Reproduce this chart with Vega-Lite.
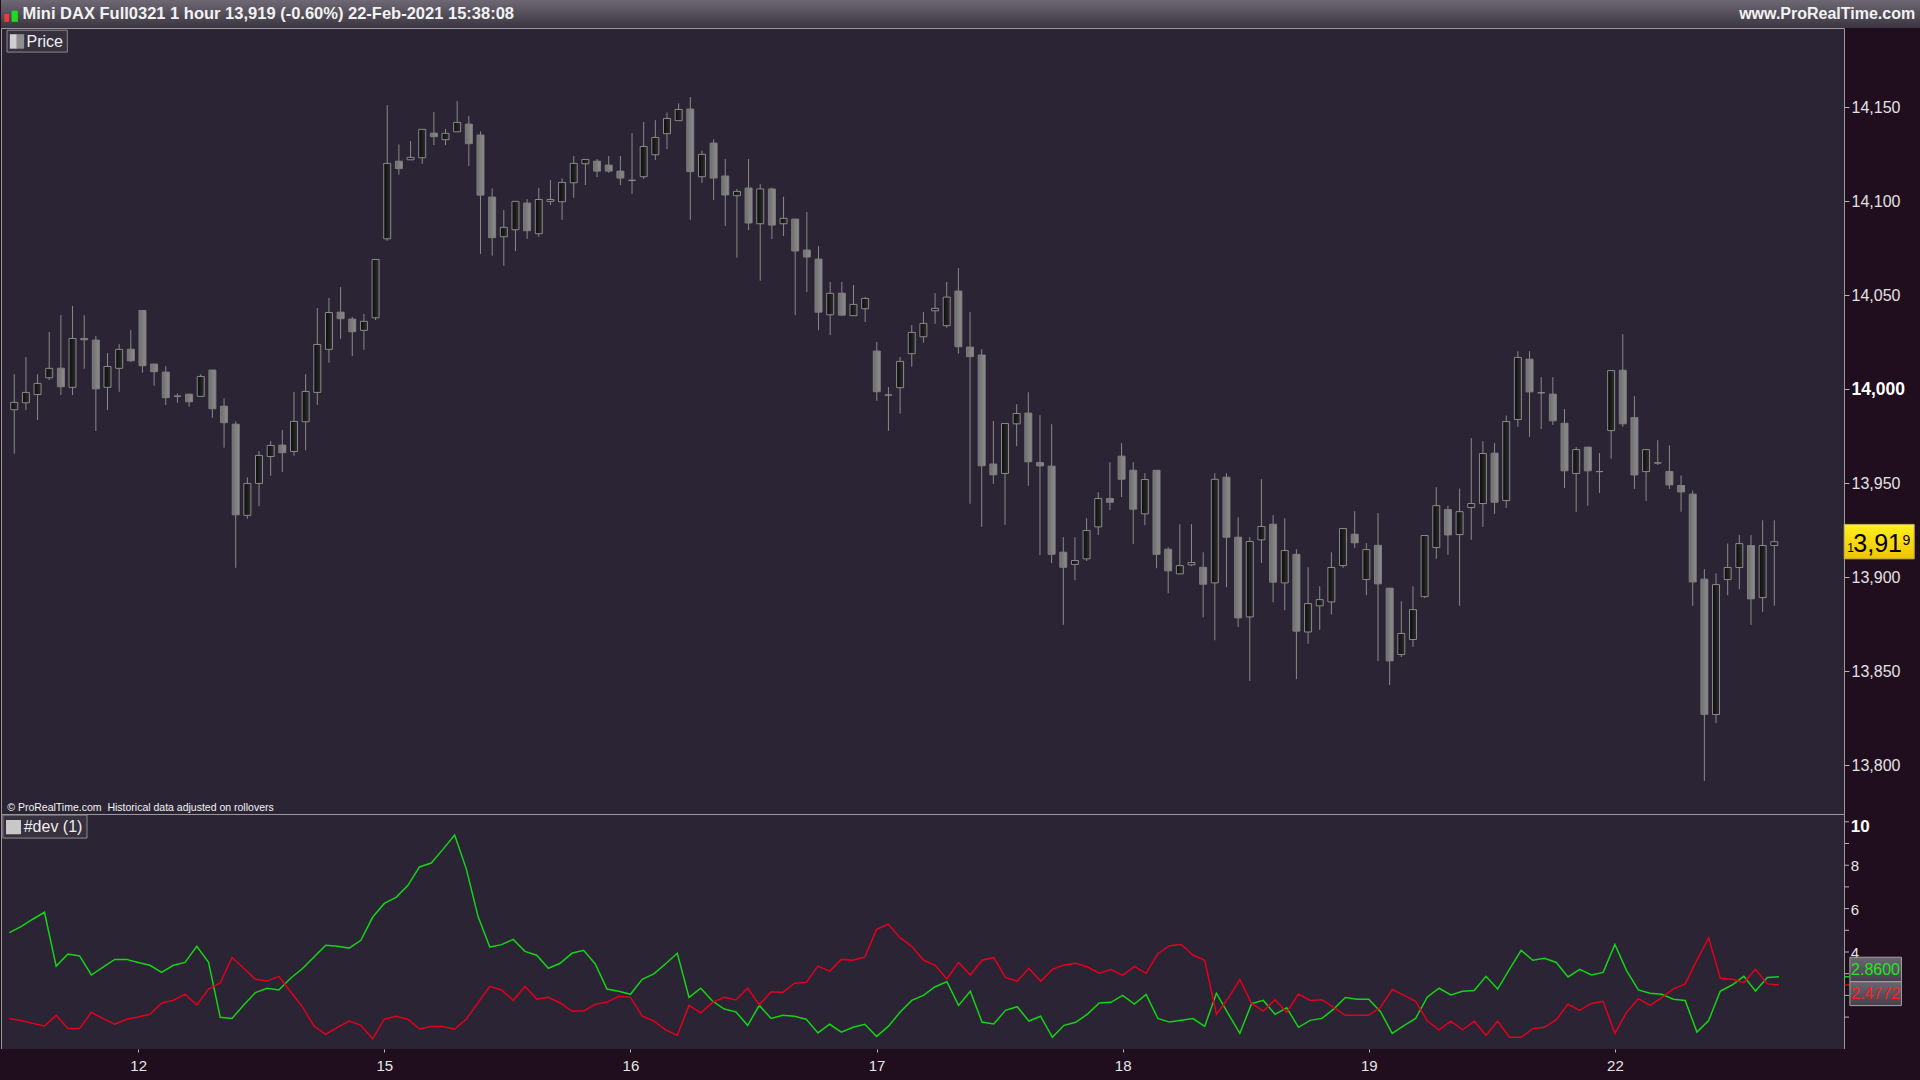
{
  "$schema": "https://vega.github.io/schema/vega-lite/v6.json",
  "background": "#200e1e",
  "padding": 0,
  "spacing": 0,
  "bounds": "flush",
  "config": {
    "font": "Liberation Sans",
    "view": {"stroke": null},
    "axis": {"domain": false, "grid": false, "labelFont": "Liberation Sans", "labelColor": "#e6e6e6", "tickColor": "#b4b4b4", "labelOverlap": false}
  },
  "resolve": {"scale": {"x": "independent", "y": "independent"}},
  "datasets": {
    "bars": [
      {"bar":0,"open":13989.2,"high":14008.1,"low":13965.8,"close":13993.1,"up":4.89,"dn":0.94},
      {"bar":1,"open":13992.9,"high":14017.2,"low":13989.0,"close":13998.4,"up":5.17,"dn":0.84},
      {"bar":2,"open":13997.3,"high":14008.1,"low":13983.7,"close":14003.2,"up":5.51,"dn":0.71},
      {"bar":3,"open":14006.2,"high":14030.5,"low":14005.0,"close":14011.2,"up":5.83,"dn":0.59},
      {"bar":4,"open":14011.3,"high":14039.5,"low":13997.0,"close":14001.4,"up":3.35,"dn":1.08},
      {"bar":5,"open":14001.1,"high":14044.3,"low":13997.0,"close":14027.1,"up":3.91,"dn":0.48},
      {"bar":6,"open":14027.1,"high":14039.5,"low":14011.0,"close":14026.4,"up":3.82,"dn":0.48},
      {"bar":7,"open":14026.2,"high":14028.4,"low":13977.8,"close":14000.3,"up":2.94,"dn":1.22},
      {"bar":8,"open":14001.1,"high":14019.3,"low":13989.0,"close":14012.2,"up":3.30,"dn":0.93},
      {"bar":9,"open":14011.2,"high":14024.1,"low":13998.7,"close":14021.3,"up":3.66,"dn":0.67},
      {"bar":10,"open":14021.4,"high":14031.5,"low":14014.5,"close":14015.2,"up":3.66,"dn":0.90},
      {"bar":11,"open":14042.0,"high":14042.0,"low":14008.9,"close":14012.6,"up":3.52,"dn":1.00},
      {"bar":12,"open":14013.5,"high":14013.5,"low":14001.9,"close":14009.4,"up":3.39,"dn":1.13},
      {"bar":13,"open":14009.2,"high":14012.4,"low":13991.7,"close":13995.6,"up":3.06,"dn":1.65},
      {"bar":14,"open":13996.4,"high":13997.9,"low":13992.9,"close":13996.4,"up":3.39,"dn":1.77},
      {"bar":15,"open":13997.5,"high":13997.5,"low":13990.8,"close":13993.4,"up":3.52,"dn":2.06},
      {"bar":16,"open":13996.3,"high":14008.1,"low":13996.1,"close":14006.9,"up":4.26,"dn":1.56},
      {"bar":17,"open":14010.3,"high":14010.3,"low":13984.9,"close":13989.7,"up":3.52,"dn":2.29},
      {"bar":18,"open":13991.1,"high":13995.2,"low":13969.0,"close":13982.3,"up":0.99,"dn":2.57},
      {"bar":19,"open":13981.5,"high":13983.0,"low":13905.1,"close":13933.3,"up":0.94,"dn":3.75},
      {"bar":20,"open":13933.0,"high":13953.2,"low":13931.2,"close":13950.0,"up":1.56,"dn":3.25},
      {"bar":21,"open":13950.0,"high":13967.2,"low":13937.9,"close":13964.9,"up":2.13,"dn":2.74},
      {"bar":22,"open":13964.3,"high":13972.5,"low":13954.1,"close":13970.2,"up":2.33,"dn":2.66},
      {"bar":23,"open":13970.4,"high":13978.4,"low":13956.0,"close":13966.3,"up":2.25,"dn":2.88},
      {"bar":24,"open":13967.0,"high":13998.6,"low":13964.7,"close":13983.0,"up":2.79,"dn":2.17},
      {"bar":25,"open":13982.8,"high":14008.1,"low":13967.7,"close":13998.9,"up":3.23,"dn":1.48},
      {"bar":26,"open":13998.4,"high":14043.3,"low":13991.8,"close":14023.9,"up":3.77,"dn":0.59},
      {"bar":27,"open":14021.3,"high":14048.6,"low":14014.2,"close":14040.9,"up":4.31,"dn":0.21},
      {"bar":28,"open":14041.1,"high":14054.4,"low":14026.9,"close":14037.6,"up":4.26,"dn":0.53},
      {"bar":29,"open":14037.4,"high":14038.5,"low":14017.7,"close":14030.7,"up":4.18,"dn":0.82},
      {"bar":30,"open":14031.4,"high":14040.1,"low":14021.1,"close":14036.2,"up":4.54,"dn":0.62},
      {"bar":31,"open":14038.1,"high":14069.1,"low":14036.9,"close":14069.1,"up":5.60,"dn":0.00},
      {"bar":32,"open":14080.1,"high":14151.2,"low":14079.1,"close":14120.2,"up":6.24,"dn":0.91},
      {"bar":33,"open":14121.4,"high":14130.3,"low":14114.2,"close":14117.4,"up":6.52,"dn":1.04},
      {"bar":34,"open":14122.1,"high":14132.1,"low":14122.1,"close":14123.4,"up":7.06,"dn":0.90},
      {"bar":35,"open":14123.2,"high":14138.3,"low":14120.0,"close":14138.3,"up":7.92,"dn":0.45},
      {"bar":36,"open":14136.3,"high":14147.5,"low":14129.9,"close":14134.4,"up":8.10,"dn":0.57},
      {"bar":37,"open":14132.8,"high":14138.5,"low":14129.9,"close":14136.2,"up":8.73,"dn":0.57},
      {"bar":38,"open":14137.0,"high":14153.3,"low":14137.0,"close":14142.0,"up":9.39,"dn":0.44},
      {"bar":39,"open":14141.1,"high":14145.4,"low":14118.8,"close":14130.7,"up":7.82,"dn":0.91},
      {"bar":40,"open":14135.3,"high":14137.2,"low":14072.1,"close":14103.3,"up":5.63,"dn":1.67},
      {"bar":41,"open":14102.3,"high":14106.9,"low":14071.1,"close":14080.7,"up":4.23,"dn":2.42},
      {"bar":42,"open":14081.2,"high":14095.4,"low":14065.8,"close":14086.2,"up":4.34,"dn":2.25},
      {"bar":43,"open":14084.9,"high":14100.0,"low":14073.6,"close":14100.0,"up":4.58,"dn":1.77},
      {"bar":44,"open":14099.1,"high":14101.2,"low":14080.1,"close":14084.4,"up":4.03,"dn":2.42},
      {"bar":45,"open":14082.8,"high":14107.1,"low":14081.2,"close":14101.0,"up":3.85,"dn":1.83},
      {"bar":46,"open":14100.0,"high":14111.3,"low":14098.0,"close":14101.0,"up":3.25,"dn":1.91},
      {"bar":47,"open":14099.8,"high":14112.2,"low":14090.2,"close":14110.1,"up":3.48,"dn":1.65},
      {"bar":48,"open":14109.9,"high":14124.1,"low":14101.9,"close":14120.2,"up":3.94,"dn":1.28},
      {"bar":49,"open":14120.0,"high":14122.3,"low":14108.7,"close":14122.3,"up":4.08,"dn":1.28},
      {"bar":50,"open":14121.4,"high":14122.5,"low":14112.9,"close":14116.1,"up":3.45,"dn":1.59},
      {"bar":51,"open":14119.3,"high":14124.1,"low":14115.2,"close":14116.1,"up":2.29,"dn":1.69},
      {"bar":52,"open":14116.1,"high":14124.1,"low":14108.7,"close":14112.4,"up":2.19,"dn":1.96},
      {"bar":53,"open":14111.2,"high":14136.3,"low":14103.9,"close":14111.2,"up":2.05,"dn":1.91},
      {"bar":54,"open":14113.1,"high":14142.2,"low":14111.9,"close":14129.2,"up":2.74,"dn":1.05},
      {"bar":55,"open":14124.8,"high":14143.2,"low":14122.0,"close":14134.0,"up":2.99,"dn":0.82},
      {"bar":56,"open":14136.0,"high":14147.3,"low":14127.8,"close":14144.1,"up":3.46,"dn":0.41},
      {"bar":57,"open":14142.9,"high":14152.1,"low":14142.9,"close":14148.9,"up":3.94,"dn":0.16},
      {"bar":58,"open":14149.1,"high":14155.5,"low":14090.2,"close":14115.8,"up":1.91,"dn":1.54},
      {"bar":59,"open":14113.1,"high":14127.0,"low":14109.9,"close":14125.0,"up":2.33,"dn":1.19},
      {"bar":60,"open":14131.0,"high":14133.0,"low":14100.7,"close":14112.4,"up":1.74,"dn":1.68},
      {"bar":61,"open":14113.5,"high":14122.5,"low":14086.9,"close":14103.4,"up":1.37,"dn":1.91},
      {"bar":62,"open":14103.0,"high":14106.6,"low":14070.0,"close":14105.3,"up":1.24,"dn":1.79},
      {"bar":63,"open":14107.1,"high":14122.5,"low":14084.7,"close":14088.5,"up":0.62,"dn":2.33},
      {"bar":64,"open":14088.1,"high":14109.2,"low":14057.8,"close":14106.6,"up":1.54,"dn":1.57},
      {"bar":65,"open":14106.6,"high":14107.3,"low":14080.0,"close":14087.4,"up":0.94,"dn":2.17},
      {"bar":66,"open":14088.1,"high":14102.5,"low":14081.6,"close":14091.0,"up":1.08,"dn":2.14},
      {"bar":67,"open":14090.6,"high":14090.6,"low":14039.5,"close":14073.6,"up":1.04,"dn":2.56},
      {"bar":68,"open":14074.1,"high":14094.3,"low":14051.8,"close":14070.4,"up":0.90,"dn":2.60},
      {"bar":69,"open":14069.3,"high":14076.2,"low":14031.5,"close":14041.1,"up":0.27,"dn":3.35},
      {"bar":70,"open":14039.7,"high":14057.1,"low":14028.9,"close":14051.1,"up":0.67,"dn":3.12},
      {"bar":71,"open":14051.2,"high":14057.1,"low":14039.2,"close":14039.5,"up":0.31,"dn":3.66},
      {"bar":72,"open":14039.2,"high":14055.5,"low":14039.2,"close":14045.2,"up":0.53,"dn":3.62},
      {"bar":73,"open":14042.9,"high":14049.1,"low":14035.8,"close":14048.4,"up":0.67,"dn":3.77},
      {"bar":74,"open":14020.4,"high":14025.2,"low":13994.0,"close":13998.8,"up":0.11,"dn":5.04},
      {"bar":75,"open":13997.0,"high":14001.2,"low":13978.0,"close":13997.0,"up":0.57,"dn":5.28},
      {"bar":76,"open":14000.9,"high":14017.2,"low":13987.1,"close":14014.9,"up":1.22,"dn":4.66},
      {"bar":77,"open":14019.0,"high":14034.2,"low":14012.1,"close":14030.3,"up":1.77,"dn":4.26},
      {"bar":78,"open":14028.0,"high":14041.1,"low":14024.8,"close":14035.1,"up":2.00,"dn":3.63},
      {"bar":79,"open":14041.8,"high":14051.2,"low":14034.9,"close":14043.1,"up":2.40,"dn":3.39},
      {"bar":80,"open":14033.9,"high":14057.1,"low":14032.8,"close":14049.1,"up":2.63,"dn":2.76},
      {"bar":81,"open":14052.3,"high":14064.5,"low":14019.0,"close":14022.7,"up":1.54,"dn":3.52},
      {"bar":82,"open":14022.5,"high":14041.1,"low":13939.2,"close":14017.4,"up":2.19,"dn":2.94},
      {"bar":83,"open":14018.3,"high":14021.4,"low":13926.9,"close":13959.4,"up":0.77,"dn":3.62},
      {"bar":84,"open":13960.3,"high":13983.2,"low":13949.8,"close":13954.6,"up":0.68,"dn":3.75},
      {"bar":85,"open":13955.3,"high":13981.9,"low":13928.0,"close":13981.9,"up":1.31,"dn":2.83},
      {"bar":86,"open":13981.7,"high":13992.1,"low":13969.8,"close":13987.2,"up":1.48,"dn":2.65},
      {"bar":87,"open":13987.4,"high":13998.5,"low":13948.7,"close":13961.5,"up":0.82,"dn":3.25},
      {"bar":88,"open":13961.1,"high":13986.3,"low":13911.8,"close":13959.3,"up":1.04,"dn":2.65},
      {"bar":89,"open":13959.2,"high":13981.5,"low":13907.7,"close":13912.3,"up":0.07,"dn":3.20},
      {"bar":90,"open":13913.4,"high":13921.4,"low":13874.8,"close":13905.4,"up":0.62,"dn":3.40},
      {"bar":91,"open":13906.9,"high":13921.4,"low":13898.5,"close":13909.0,"up":0.76,"dn":3.48},
      {"bar":92,"open":13909.9,"high":13931.5,"low":13908.8,"close":13925.0,"up":1.14,"dn":3.31},
      {"bar":93,"open":13926.9,"high":13945.3,"low":13922.5,"close":13942.0,"up":1.65,"dn":3.02},
      {"bar":94,"open":13942.0,"high":13961.3,"low":13935.8,"close":13940.0,"up":1.68,"dn":3.19},
      {"bar":95,"open":13964.5,"high":13971.4,"low":13942.7,"close":13952.2,"up":2.00,"dn":2.92},
      {"bar":96,"open":13957.0,"high":13961.3,"low":13917.7,"close":13936.3,"up":1.60,"dn":3.34},
      {"bar":97,"open":13933.8,"high":13955.4,"low":13927.8,"close":13952.1,"up":2.05,"dn":3.02},
      {"bar":98,"open":13957.0,"high":13957.0,"low":13904.9,"close":13912.3,"up":0.94,"dn":3.92},
      {"bar":99,"open":13915.0,"high":13916.1,"low":13891.6,"close":13903.5,"up":0.77,"dn":4.29},
      {"bar":100,"open":13901.9,"high":13928.3,"low":13901.9,"close":13906.3,"up":0.85,"dn":4.35},
      {"bar":101,"open":13906.7,"high":13928.3,"low":13906.0,"close":13907.9,"up":0.93,"dn":3.86},
      {"bar":102,"open":13905.4,"high":13913.4,"low":13878.8,"close":13896.4,"up":0.57,"dn":3.62},
      {"bar":103,"open":13897.1,"high":13955.4,"low":13866.6,"close":13952.2,"up":2.10,"dn":1.13},
      {"bar":104,"open":13953.3,"high":13955.4,"low":13894.8,"close":13921.4,"up":1.16,"dn":1.86},
      {"bar":105,"open":13921.4,"high":13932.0,"low":13873.7,"close":13878.5,"up":0.25,"dn":2.73},
      {"bar":106,"open":13879.0,"high":13921.4,"low":13845.0,"close":13919.1,"up":1.62,"dn":1.63},
      {"bar":107,"open":13920.0,"high":13952.2,"low":13907.7,"close":13927.1,"up":1.77,"dn":1.28},
      {"bar":108,"open":13928.3,"high":13933.1,"low":13886.8,"close":13897.5,"up":1.13,"dn":1.80},
      {"bar":109,"open":13897.1,"high":13931.5,"low":13882.6,"close":13914.3,"up":1.43,"dn":1.22},
      {"bar":110,"open":13912.3,"high":13915.0,"low":13845.9,"close":13871.4,"up":0.53,"dn":2.06},
      {"bar":111,"open":13871.0,"high":13905.4,"low":13864.7,"close":13886.1,"up":0.85,"dn":1.77},
      {"bar":112,"open":13884.9,"high":13895.3,"low":13872.1,"close":13888.2,"up":0.94,"dn":1.80},
      {"bar":113,"open":13887.0,"high":13913.4,"low":13880.3,"close":13905.3,"up":1.37,"dn":1.45},
      {"bar":114,"open":13906.3,"high":13926.0,"low":13905.1,"close":13926.0,"up":1.90,"dn":1.08},
      {"bar":115,"open":13923.0,"high":13935.2,"low":13915.7,"close":13918.4,"up":1.82,"dn":1.08},
      {"bar":116,"open":13898.9,"high":13918.2,"low":13890.5,"close":13914.8,"up":1.82,"dn":1.08},
      {"bar":117,"open":13917.1,"high":13934.2,"low":13855.6,"close":13896.6,"up":1.25,"dn":1.45},
      {"bar":118,"open":13894.3,"high":13894.3,"low":13842.8,"close":13855.6,"up":0.25,"dn":2.27},
      {"bar":119,"open":13859.0,"high":13887.3,"low":13857.7,"close":13870.2,"up":0.61,"dn":2.00},
      {"bar":120,"open":13867.0,"high":13895.3,"low":13863.1,"close":13882.9,"up":0.94,"dn":1.73},
      {"bar":121,"open":13889.8,"high":13922.3,"low":13889.1,"close":13922.3,"up":1.93,"dn":0.82},
      {"bar":122,"open":13915.9,"high":13948.0,"low":13909.9,"close":13938.2,"up":2.33,"dn":0.41},
      {"bar":123,"open":13936.1,"high":13938.2,"low":13912.0,"close":13922.6,"up":2.02,"dn":0.81},
      {"bar":124,"open":13922.8,"high":13947.3,"low":13884.9,"close":13935.0,"up":2.19,"dn":0.41},
      {"bar":125,"open":13937.2,"high":13974.1,"low":13920.0,"close":13939.3,"up":2.23,"dn":0.81},
      {"bar":126,"open":13939.3,"high":13972.5,"low":13926.9,"close":13965.9,"up":2.88,"dn":0.16},
      {"bar":127,"open":13966.1,"high":13971.4,"low":13933.8,"close":13940.0,"up":2.29,"dn":0.81},
      {"bar":128,"open":13940.9,"high":13986.1,"low":13937.0,"close":13982.9,"up":3.20,"dn":0.07},
      {"bar":129,"open":13984.0,"high":14020.3,"low":13980.1,"close":14017.0,"up":4.08,"dn":0.07},
      {"bar":130,"open":14016.1,"high":14020.3,"low":13974.8,"close":13998.7,"up":3.62,"dn":0.47},
      {"bar":131,"open":13998.2,"high":14006.5,"low":13979.0,"close":13998.2,"up":3.71,"dn":0.53},
      {"bar":132,"open":13997.5,"high":14006.5,"low":13981.1,"close":13983.3,"up":3.52,"dn":0.88},
      {"bar":133,"open":13982.0,"high":13989.5,"low":13947.6,"close":13956.7,"up":2.85,"dn":1.59},
      {"bar":134,"open":13955.3,"high":13969.3,"low":13934.9,"close":13968.0,"up":3.20,"dn":1.31},
      {"bar":135,"open":13969.3,"high":13969.3,"low":13938.1,"close":13956.7,"up":2.94,"dn":1.63},
      {"bar":136,"open":13956.3,"high":13966.1,"low":13945.0,"close":13956.3,"up":3.06,"dn":1.73},
      {"bar":137,"open":13978.1,"high":14010.0,"low":13963.1,"close":14010.0,"up":4.35,"dn":0.25},
      {"bar":138,"open":14010.2,"high":14029.4,"low":13980.1,"close":13981.7,"up":3.14,"dn":1.22},
      {"bar":139,"open":13985.0,"high":13996.4,"low":13947.1,"close":13954.5,"up":2.25,"dn":1.85},
      {"bar":140,"open":13956.3,"high":13968.0,"low":13940.7,"close":13968.0,"up":2.10,"dn":1.54},
      {"bar":141,"open":13960.9,"high":13973.0,"low":13959.9,"close":13960.9,"up":2.05,"dn":1.90},
      {"bar":142,"open":13956.3,"high":13970.2,"low":13947.1,"close":13949.2,"up":1.82,"dn":2.30},
      {"bar":143,"open":13948.9,"high":13954.2,"low":13934.9,"close":13945.5,"up":1.77,"dn":2.53},
      {"bar":144,"open":13944.3,"high":13946.2,"low":13884.9,"close":13897.6,"up":0.31,"dn":3.63},
      {"bar":145,"open":13899.1,"high":13904.4,"low":13791.8,"close":13827.2,"up":0.84,"dn":4.65},
      {"bar":146,"open":13827.1,"high":13902.1,"low":13822.6,"close":13896.2,"up":2.20,"dn":2.79},
      {"bar":147,"open":13898.9,"high":13918.0,"low":13890.5,"close":13905.3,"up":2.48,"dn":2.74},
      {"bar":148,"open":13905.3,"high":13922.5,"low":13893.7,"close":13918.0,"up":2.88,"dn":2.59},
      {"bar":149,"open":13917.0,"high":13922.5,"low":13874.8,"close":13888.6,"up":2.20,"dn":3.20},
      {"bar":150,"open":13889.3,"high":13930.4,"low":13881.7,"close":13917.0,"up":2.83,"dn":2.53},
      {"bar":151,"open":13917.0,"high":13930.4,"low":13884.9,"close":13919.0,"up":2.86,"dn":2.48}
    ],
    "devscale": [
      {"v": 1, "lab": ""}, {"v": 2, "lab": ""}, {"v": 3, "lab": ""}, {"v": 4, "lab": "4"}, {"v": 5, "lab": ""},
      {"v": 6, "lab": "6"}, {"v": 7, "lab": ""}, {"v": 8, "lab": "8"}, {"v": 9, "lab": ""}, {"v": 10, "lab": "10"}
    ]
  },
  "vconcat": [
    {
      "width": 1919,
      "height": 28,
      "data": {"values": [{"name": "Mini DAX Full0321 1 hour 13,919 (-0.60%) 22-Feb-2021 15:38:08", "site": "www.ProRealTime.com"}]},
      "layer": [
        {
          "mark": {"type": "rect", "fill": {"gradient": "linear", "x1": 0, "y1": 0, "x2": 0, "y2": 1, "stops": [{"offset": 0, "color": "#6e6874"}, {"offset": 1, "color": "#3a3540"}]}},
          "encoding": {
            "x": {"datum": 0, "type": "quantitative", "scale": {"domain": [0, 1], "nice": false, "zero": false}, "axis": null},
            "x2": {"datum": 1},
            "y": {"datum": 0, "type": "quantitative", "scale": {"domain": [0, 1], "nice": false, "zero": false}, "axis": null},
            "y2": {"datum": 1}
          }
        },
        {
          "mark": {"type": "rect", "fill": "#f03a3a"},
          "encoding": {"x": {"datum": 0.0017, "type": "quantitative"}, "x2": {"datum": 0.0042}, "y": {"datum": 0.22, "type": "quantitative"}, "y2": {"datum": 0.5}}
        },
        {
          "mark": {"type": "rect", "fill": "#22d822"},
          "encoding": {"x": {"datum": 0.0055, "type": "quantitative"}, "x2": {"datum": 0.0088}, "y": {"datum": 0.22, "type": "quantitative"}, "y2": {"datum": 0.62}}
        },
        {
          "mark": {"type": "text", "align": "left", "baseline": "middle", "fontSize": 16.5, "fontWeight": "bold", "color": "#f2f2f2"},
          "encoding": {"x": {"datum": 0.0112, "type": "quantitative"}, "y": {"datum": 0.5, "type": "quantitative"}, "text": {"field": "name"}}
        },
        {
          "mark": {"type": "text", "align": "right", "baseline": "middle", "fontSize": 16, "fontWeight": "bold", "color": "#f2f2f2"},
          "encoding": {"x": {"datum": 0.9975, "type": "quantitative"}, "y": {"datum": 0.5, "type": "quantitative"}, "text": {"field": "site"}}
        }
      ]
    },
    {
      "width": 1843,
      "height": 786,
      "view": {"fill": "#2a2434", "stroke": "#9a9a9a"},
      "data": {"name": "bars"},
      "layer": [
        {
          "mark": {"type": "rule", "color": "#8a8a8a", "strokeWidth": 1},
          "encoding": {
            "x": {"field": "bar", "type": "quantitative", "scale": {"domain": [-0.708, 156.55], "nice": false, "zero": false}, "axis": null},
            "y": {"field": "low", "type": "quantitative", "scale": {"domain": [13774.2, 14192.2], "nice": false, "zero": false},
              "axis": {"orient": "right", "title": null, "values": [13800, 13850, 13900, 13950, 14000, 14050, 14100, 14150], "format": ",d", "tickSize": 5, "labelPadding": 2,
                "labelFontSize": {"condition": {"test": "datum.value == 14000", "value": 17.5}, "value": 16},
                "labelFontWeight": {"condition": {"test": "datum.value == 14000", "value": "bold"}, "value": "normal"},
                "labelColor": {"condition": {"test": "datum.value == 14000", "value": "#ffffff"}, "value": "#e2e2e2"},
                "minExtent": 77, "maxExtent": 77}},
            "y2": {"field": "high"}
          }
        },
        {
          "transform": [{"filter": "datum.close >= datum.open"}],
          "mark": {"type": "bar", "size": 7, "fill": {"gradient": "linear", "x1": 0, "y1": 0, "x2": 1, "y2": 0, "stops": [{"offset": 0, "color": "#0c0c0c"}, {"offset": 1, "color": "#2e2e2e"}]}, "stroke": "#8a8a8a", "strokeWidth": 1},
          "encoding": {
            "x": {"field": "bar", "type": "quantitative"},
            "y": {"field": "open", "type": "quantitative"},
            "y2": {"field": "close"}
          }
        },
        {
          "transform": [{"filter": "datum.close < datum.open"}],
          "mark": {"type": "bar", "size": 7, "fill": {"gradient": "linear", "x1": 0, "y1": 0, "x2": 1, "y2": 0, "stops": [{"offset": 0, "color": "#6e6e6e"}, {"offset": 1, "color": "#8e8e8e"}]}, "stroke": "#7e7e7e", "strokeWidth": 1},
          "encoding": {
            "x": {"field": "bar", "type": "quantitative"},
            "y": {"field": "open", "type": "quantitative"},
            "y2": {"field": "close"}
          }
        },
        {
          "data": {"values": [{"label": "Price"}]},
          "layer": [
            {
              "mark": {"type": "rect", "fill": "#37303f", "stroke": "#8c8c8c", "strokeWidth": 1},
              "encoding": {"x": {"datum": -0.62, "type": "quantitative"}, "x2": {"datum": 4.55}, "y": {"datum": 14191.0, "type": "quantitative"}, "y2": {"datum": 14179.4}}
            },
            {
              "mark": {"type": "rect", "fill": "#d0d0d0"},
              "encoding": {"x": {"datum": -0.38, "type": "quantitative"}, "x2": {"datum": 0.22}, "y": {"datum": 14188.9, "type": "quantitative"}, "y2": {"datum": 14181.2}}
            },
            {
              "mark": {"type": "rect", "fill": "#8e8e8e"},
              "encoding": {"x": {"datum": 0.22, "type": "quantitative"}, "x2": {"datum": 0.85}, "y": {"datum": 14188.9, "type": "quantitative"}, "y2": {"datum": 14181.2}}
            },
            {
              "mark": {"type": "text", "align": "left", "baseline": "middle", "fontSize": 16, "color": "#f0f0f0"},
              "encoding": {"x": {"datum": 1.05, "type": "quantitative"}, "y": {"datum": 14184.8, "type": "quantitative"}, "text": {"field": "label"}}
            }
          ]
        },
        {
          "data": {"values": [{"label": "© ProRealTime.com\u00a0 Historical data adjusted on rollovers"}]},
          "mark": {"type": "text", "align": "left", "baseline": "middle", "fontSize": 10.5, "color": "#f4f4f4"},
          "encoding": {"x": {"datum": -0.6, "type": "quantitative"}, "y": {"datum": 13777.2, "type": "quantitative"}, "text": {"field": "label"}}
        },
        {
          "data": {"values": [{"lead": "1", "main": "3,91", "tail": "9"}]},
          "layer": [
            {
              "mark": {"type": "rect", "fill": {"gradient": "linear", "x1": 0, "y1": 0, "x2": 0, "y2": 1, "stops": [{"offset": 0, "color": "#fff01e"}, {"offset": 1, "color": "#f0c400"}]}, "stroke": "#c0b060", "strokeWidth": 1},
              "encoding": {"x": {"datum": 157.0, "type": "quantitative"}, "x2": {"datum": 163.0}, "y": {"datum": 13928.2, "type": "quantitative"}, "y2": {"datum": 13909.9}}
            },
            {
              "mark": {"type": "text", "align": "left", "baseline": "alphabetic", "fontSize": 12, "color": "#000000"},
              "encoding": {"x": {"datum": 157.25, "type": "quantitative"}, "y": {"datum": 13913.5, "type": "quantitative"}, "text": {"field": "lead"}}
            },
            {
              "mark": {"type": "text", "align": "left", "baseline": "alphabetic", "fontSize": 25, "color": "#000000"},
              "encoding": {"x": {"datum": 157.78, "type": "quantitative"}, "y": {"datum": 13913.5, "type": "quantitative"}, "text": {"field": "main"}}
            },
            {
              "mark": {"type": "text", "align": "left", "baseline": "alphabetic", "fontSize": 14, "color": "#000000"},
              "encoding": {"x": {"datum": 162.0, "type": "quantitative"}, "y": {"datum": 13917.2, "type": "quantitative"}, "text": {"field": "tail"}}
            }
          ]
        }
      ]
    },
    {
      "width": 1843,
      "height": 235,
      "view": {"fill": "#2a2434", "stroke": "#9a9a9a"},
      "data": {"name": "bars"},
      "layer": [
        {
          "mark": {"type": "line", "color": "#14d414", "strokeWidth": 1.5},
          "encoding": {
            "x": {"field": "bar", "type": "quantitative", "scale": {"domain": [-0.708, 156.55], "nice": false, "zero": false},
              "axis": {"orient": "bottom", "title": null, "values": [11, 32, 53, 74, 95, 116, 137],
                "labelExpr": "datum.value == 11 ? '12' : datum.value == 32 ? '15' : datum.value == 53 ? '16' : datum.value == 74 ? '17' : datum.value == 95 ? '18' : datum.value == 116 ? '19' : '22'",
                "tickSize": 3, "labelPadding": 6, "labelFontSize": 15, "labelColor": "#e6e6e6", "labelFlush": false, "zindex": 1}},
            "y": {"field": "up", "type": "quantitative", "scale": {"domain": [-0.47, 10.36], "nice": false, "zero": false}, "axis": null}
          }
        },
        {
          "mark": {"type": "line", "color": "#e2001c", "strokeWidth": 1.5},
          "encoding": {"x": {"field": "bar", "type": "quantitative"}, "y": {"field": "dn", "type": "quantitative"}}
        },
        {
          "data": {"values": [{"label": "strip"}]},
          "mark": {"type": "rect", "fill": "#200e1e"},
          "encoding": {
            "x": {"datum": -0.708, "type": "quantitative"},
            "x2": {"datum": 163.03},
            "y": {"datum": -0.47, "type": "quantitative"},
            "y2": {"datum": -1.895}
          }
        },
        {
          "data": {"name": "devscale"},
          "layer": [
            {
              "mark": {"type": "rule", "color": "#b4b4b4", "strokeWidth": 1},
              "encoding": {"x": {"datum": 156.6, "type": "quantitative"}, "x2": {"datum": 156.98}, "y": {"field": "v", "type": "quantitative"}}
            },
            {
              "transform": [{"filter": "datum.v != 10"}],
              "mark": {"type": "text", "align": "left", "baseline": "middle", "fontSize": 15, "color": "#e6e6e6", "dy": 1},
              "encoding": {
                "x": {"datum": 157.12, "type": "quantitative"},
                "y": {"field": "v", "type": "quantitative"},
                "text": {"field": "lab"}
              }
            },
            {
              "transform": [{"filter": "datum.v == 10"}],
              "mark": {"type": "text", "align": "left", "baseline": "middle", "fontSize": 17, "fontWeight": "bold", "color": "#ffffff", "dy": 5},
              "encoding": {
                "x": {"datum": 157.12, "type": "quantitative"},
                "y": {"field": "v", "type": "quantitative"},
                "text": {"field": "lab"}
              }
            }
          ]
        },
        {
          "data": {"values": [{"label": "#dev (1)"}]},
          "layer": [
            {
              "mark": {"type": "rect", "fill": "#37303f", "stroke": "#8c8c8c", "strokeWidth": 1},
              "encoding": {"x": {"datum": -0.55, "type": "quantitative"}, "x2": {"datum": 6.63}, "y": {"datum": 10.31, "type": "quantitative"}, "y2": {"datum": 9.25}}
            },
            {
              "mark": {"type": "rect", "fill": "#c8c8c8"},
              "encoding": {"x": {"datum": -0.28, "type": "quantitative"}, "x2": {"datum": 1.0}, "y": {"datum": 10.08, "type": "quantitative"}, "y2": {"datum": 9.43}}
            },
            {
              "mark": {"type": "text", "align": "left", "baseline": "middle", "fontSize": 16, "color": "#eeeeee"},
              "encoding": {"x": {"datum": 1.23, "type": "quantitative"}, "y": {"datum": 9.77, "type": "quantitative"}, "text": {"field": "label"}}
            }
          ]
        },
        {
          "data": {"values": [{"g": "2.8600", "r": "2.4772"}]},
          "layer": [
            {
              "mark": {"type": "rule", "color": "#14d414", "strokeWidth": 1.5},
              "encoding": {"x": {"datum": 156.6, "type": "quantitative"}, "x2": {"datum": 157.0}, "y": {"datum": 2.86, "type": "quantitative"}}
            },
            {
              "mark": {"type": "rule", "color": "#e2001c", "strokeWidth": 1.5},
              "encoding": {"x": {"datum": 156.6, "type": "quantitative"}, "x2": {"datum": 157.0}, "y": {"datum": 2.48, "type": "quantitative"}}
            },
            {
              "mark": {"type": "rect", "fill": {"gradient": "linear", "x1": 0, "y1": 0, "x2": 0, "y2": 1, "stops": [{"offset": 0, "color": "#6a6570"}, {"offset": 1, "color": "#45404b"}]}, "stroke": "#a4a4a4", "strokeWidth": 1},
              "encoding": {"x": {"datum": 157.05, "type": "quantitative"}, "x2": {"datum": 161.45}, "y": {"datum": 3.76, "type": "quantitative"}, "y2": {"datum": 2.63}}
            },
            {
              "mark": {"type": "rect", "fill": {"gradient": "linear", "x1": 0, "y1": 0, "x2": 0, "y2": 1, "stops": [{"offset": 0, "color": "#6a6570"}, {"offset": 1, "color": "#45404b"}]}, "stroke": "#a4a4a4", "strokeWidth": 1},
              "encoding": {"x": {"datum": 157.05, "type": "quantitative"}, "x2": {"datum": 161.45}, "y": {"datum": 2.63, "type": "quantitative"}, "y2": {"datum": 1.53}}
            },
            {
              "mark": {"type": "text", "align": "left", "baseline": "middle", "fontSize": 16, "color": "#22e622"},
              "encoding": {"x": {"datum": 157.15, "type": "quantitative"}, "y": {"datum": 3.19, "type": "quantitative"}, "text": {"field": "g"}}
            },
            {
              "mark": {"type": "text", "align": "left", "baseline": "middle", "fontSize": 16, "color": "#ff1e1e"},
              "encoding": {"x": {"datum": 157.15, "type": "quantitative"}, "y": {"datum": 2.08, "type": "quantitative"}, "text": {"field": "r"}}
            }
          ]
        }
      ]
    }
  ]
}
